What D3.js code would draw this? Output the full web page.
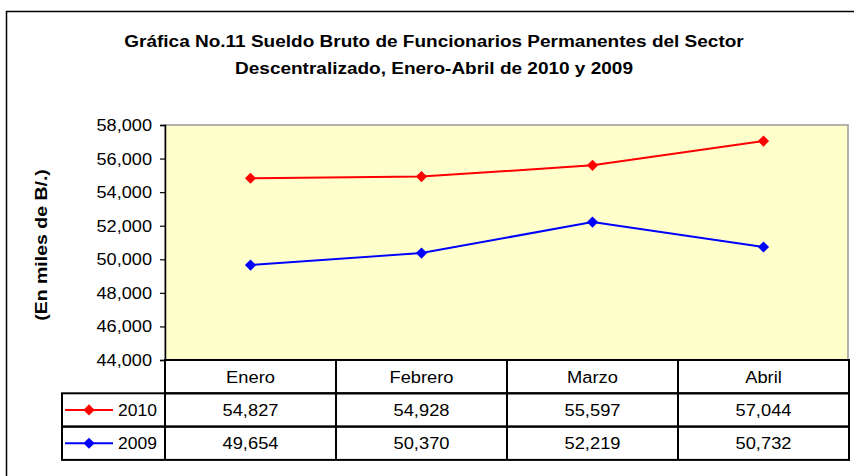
<!DOCTYPE html>
<html>
<head>
<meta charset="utf-8">
<script src="https://cdn.jsdelivr.net/npm/d3@7"></script>
<style>
  body { margin: 0; background: #fff; }
  svg { display: block; font-family: "Liberation Sans", Arial, sans-serif; }
</style>
</head>
<body>
<div id="chart"></div>
<script>
// data
const months = ['Enero', 'Febrero', 'Marzo', 'Abril']
const years = ['2010', '2009']
const values2010 = [54827, 54928, 55597, 57044]
const values2009 = [49654, 50370, 52219, 50732]
const seriesColors = ['#ff0000', '#0000ff']
const yTicks = [44000, 46000, 48000, 50000, 52000, 54000, 56000, 58000]
const titleLines = [
  'Gráfica No.11 Sueldo Bruto de Funcionarios Permanentes del Sector',
  'Descentralizado, Enero-Abril de 2010 y 2009'
]
const yLabel = '(En miles de B/.)'

const series = years.map((y, i) => ({
  year: y,
  color: seriesColors[i],
  values: i === 0 ? values2010 : values2009
}))

const W = 854, H = 476
const plot = { left: 165, right: 849, top: 125, bottom: 360 }
const rowH = 33.3
const legendLeft = 62

let svg = d3.select('#chart').append('svg')
  .attr('width', W)
  .attr('height', H)

// outer frame
svg.append('rect')
  .attr('x', 6.5).attr('y', 11.5)
  .attr('width', W + 10).attr('height', H + 10)
  .attr('fill', 'none')
  .attr('stroke', '#000')
  .attr('stroke-width', 1.5)

// stretched text helper (source chart text is a bit wide)
function stretched(g, txt, x, y, opts) {
  let t = g.append('text')
    .attr('transform', `translate(${x},${y})` + (opts.rotate ? ` rotate(${opts.rotate})` : '') + ` scale(${opts.sx},1)`)
    .attr('text-anchor', opts.anchor || 'middle')
    .attr('font-size', opts.size)
    .attr('font-weight', opts.bold ? 'bold' : 'normal')
    .attr('fill', '#000')
    .text(txt)
  return t
}

// title
titleLines.forEach((line, i) => {
  stretched(svg, line, 434, 47 + i * 27, { size: 17, bold: true, sx: 1.118 })
})

let x = d3.scaleBand()
  .domain(months)
  .range([plot.left, plot.right])

let y = d3.scaleLinear()
  .domain([44000, 58000])
  .range([plot.bottom, plot.top])

// plot background
svg.append('rect')
  .attr('x', plot.left).attr('y', plot.top)
  .attr('width', plot.right - plot.left - 1)
  .attr('height', plot.bottom - plot.top)
  .attr('fill', '#ffffcc')
  .attr('stroke', '#999')
  .attr('stroke-width', 1.5)

// y axis
let yAxis = svg.append('g')
  .attr('transform', `translate(${plot.left},0)`)
  .call(d3.axisLeft(y).tickValues(yTicks).tickSize(5).tickFormat(''))
yAxis.select('.domain').attr('stroke', '#000').attr('stroke-width', 1.5)
yAxis.selectAll('.tick line').attr('stroke', '#000').attr('stroke-width', 1.2)

let fmt = d3.format(',')
let yLabels = svg.append('g')
yTicks.forEach(v => {
  stretched(yLabels, fmt(v), 152, y(v) + 6, { size: 16, anchor: 'end', sx: 1.134 })
})

stretched(svg, yLabel, 47, 245, { size: 16, bold: true, rotate: -90, sx: 1.22 })

// lines and markers
let line = d3.line()
  .x((d, i) => x(months[i]) + x.bandwidth() / 2)
  .y(d => y(d))

let diamond = d3.symbol().type(d3.symbolDiamond2).size(80)

series.forEach(s => {
  svg.append('path')
    .datum(s.values)
    .attr('d', line)
    .attr('fill', 'none')
    .attr('stroke', s.color)
    .attr('stroke-width', 2)

  svg.selectAll(null)
    .data(s.values)
    .enter().append('path')
      .attr('d', diamond)
      .attr('transform', (d, i) => `translate(${x(months[i]) + x.bandwidth() / 2},${y(d)})`)
      .attr('fill', s.color)
})

// data table
let table = svg.append('g')
  .attr('stroke', '#000')
  .attr('stroke-width', 2)
  .attr('fill', 'none')

// header row
table.append('rect')
  .attr('x', plot.left).attr('y', plot.bottom)
  .attr('width', plot.right - plot.left).attr('height', rowH)
// series rows
series.forEach((s, i) => {
  table.append('rect')
    .attr('x', legendLeft).attr('y', plot.bottom + rowH * (i + 1))
    .attr('width', plot.right - legendLeft).attr('height', rowH)
})
// column dividers
months.forEach(m => {
  table.append('line')
    .attr('x1', x(m)).attr('x2', x(m))
    .attr('y1', plot.bottom).attr('y2', plot.bottom + rowH * (series.length + 1))
})

let cells = svg.append('g')
months.forEach(m => {
  stretched(cells, m, x(m) + x.bandwidth() / 2, plot.bottom + rowH / 2 + 6, { size: 17, sx: 1.077 })
})
series.forEach((s, i) => {
  let cy = plot.bottom + rowH * (i + 1.5)
  s.values.forEach((v, j) => {
    stretched(cells, fmt(v), x(months[j]) + x.bandwidth() / 2, cy + 6, { size: 17, sx: 1.077 })
  })
  // legend key
  svg.append('line')
    .attr('x1', 65).attr('x2', 113)
    .attr('y1', cy).attr('y2', cy)
    .attr('stroke', s.color)
    .attr('stroke-width', 2)
  svg.append('path')
    .attr('d', diamond)
    .attr('transform', `translate(89,${cy})`)
    .attr('fill', s.color)
  stretched(cells, s.year, 118, cy + 6, { size: 17, anchor: 'start', sx: 1.03 })
})
</script>
</body>
</html>
